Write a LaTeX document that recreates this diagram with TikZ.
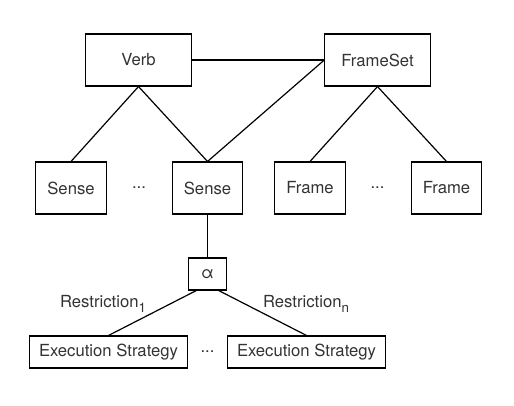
\documentclass[tikz,border=0pt]{standalone}
\usepackage{fontspec}
\setmainfont{TeX Gyre Heros}
\usepackage{tikz}
\usetikzlibrary{positioning,calc}
\newcommand{\rsub}[1]{\raisebox{-0.5ex}{\fontsize{10}{10}\selectfont #1}}

\begin{document}
\begin{tikzpicture}[x=0.75pt, y=-0.75pt,
      font=\fontsize{12.5}{14}\selectfont,
      every node/.style={text=black!80},
      box/.style={rectangle, draw=black, line width=0.8pt, inner sep=0pt, align=center},
      topbox/.style={box, minimum width=79pt, minimum height=39pt},
      leafbox/.style={box, minimum width=53pt, minimum height=39pt},
      strategy/.style={box, minimum width=118pt, minimum height=24pt},
      link/.style={line width=0.9pt}
      ]
      \useasboundingbox (0,0) rectangle (514,405);
      \node[topbox] (VERB) at (138.5,60) {Verb};
      \node[topbox] (FSET) at (377.5,60) {FrameSet};
      \node[leafbox] (SENSEA) at (71,188) {Sense};
      \node (DOTSA) at (139,188) {...};
      \node[leafbox] (SENSEB) at (207.5,188) {Sense};
      \node[leafbox] (FRAMEA) at (310,188) {Frame};
      \node (DOTSB) at (377.5,188) {...};
      \node[leafbox] (FRAMEB) at (446.5,188) {Frame};
      \node[box, minimum width=28pt, minimum height=24pt] (ALPHA) at (207.5,274) {α};
      \node[strategy] (ESA) at (108.5,352) {Execution Strategy};
      \node (DOTSC) at (207.5,352) {...};
      \node[strategy] (ESB) at (306.5,352) {Execution Strategy};
      \node (RA) at (103,304) {Restriction\rsub{1}};
      \node (RN) at (306,304) {Restriction\rsub{n}};
      \draw[link] (VERB.east) -- (FSET.west);
      \draw[link] (VERB.south) -- (SENSEA.north);
      \draw[link] (VERB.south) -- (SENSEB.north);
      \draw[link] (FSET.west) -- (SENSEB.north);
      \draw[link] (FSET.south) -- (FRAMEA.north);
      \draw[link] (FSET.south) -- (FRAMEB.north);
      \draw[link] (SENSEB.south) -- (ALPHA.north);
      \draw[link] ($(ALPHA.south west)+(8,0)$) -- (ESA.north);
      \draw[link] ($(ALPHA.south east)+(-8,0)$) -- (ESB.north);
    \end{tikzpicture}
\end{document}
